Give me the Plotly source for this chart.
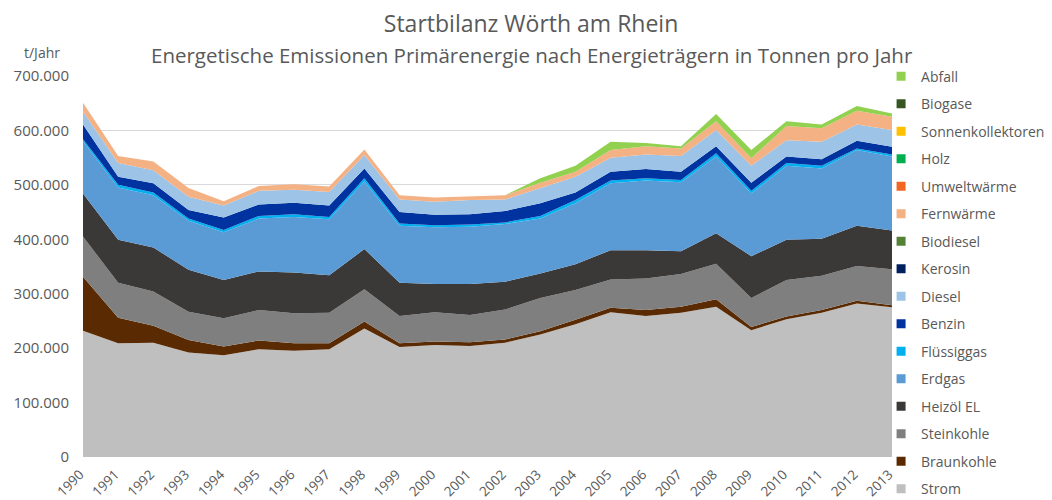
import plotly.graph_objects as go

years = list(range(1990, 2014))

# values in tonnes per year
strom = [232000, 209000, 210000, 192000, 187000, 198000, 195000, 198000, 236000, 202000, 206000, 204000,
         210000, 225000, 244000, 266000, 259000, 265000, 276000, 233000, 253000, 265000, 282000, 275000]
braunkohle = [99000, 47000, 31000, 23000, 16000, 16000, 14000, 11000, 13000, 7000, 6000, 7000,
              6000, 6000, 8000, 8000, 11000, 11000, 14000, 6000, 5000, 5000, 5000, 4000]
steinkohle = [74000, 64000, 63000, 52000, 52000, 56000, 55000, 56000, 59000, 50000, 54000, 50000,
              55000, 61000, 55000, 52000, 58000, 60000, 65000, 53000, 67000, 63000, 64000, 66000]
heizoel = [79000, 79000, 81000, 77000, 70000, 71000, 75000, 69000, 74000, 61000, 52000, 57000,
           51000, 45000, 47000, 54000, 52000, 42000, 56000, 77000, 74000, 68000, 74000, 71000]
erdgas = [96000, 96000, 96000, 90000, 88000, 97000, 102000, 103000, 124000, 105000, 104000, 105000,
          106000, 101000, 112000, 123000, 128000, 127000, 141000, 115000, 136000, 129000, 139000, 136000]
fluessiggas = [4000, 5000, 5000, 4000, 4000, 5000, 5000, 4000, 6000, 4000, 4000, 4000,
               3000, 5000, 6000, 5000, 4000, 4000, 6000, 5000, 5000, 5000, 3000, 4000]
benzin = [27000, 15000, 17000, 16000, 23000, 21000, 21000, 21000, 18000, 21000, 19000, 19000,
          21000, 23000, 14000, 16000, 17000, 15000, 13000, 15000, 12000, 12000, 14000, 14000]
diesel = [24000, 25000, 24000, 24000, 22000, 25000, 24000, 25000, 25000, 23000, 24000, 26000,
          21000, 28000, 29000, 26000, 27000, 29000, 30000, 31000, 30000, 32000, 30000, 31000]
kerosin = [0] * 24
biodiesel = [0] * 24
fernwaerme = [16000, 13000, 16000, 16000, 8000, 9000, 10000, 10000, 10000, 8000, 8000, 7000,
              8000, 10000, 9000, 14000, 15000, 14000, 16000, 14000, 26000, 25000, 25000, 24000]
umweltwaerme = [0] * 24
holz = [0] * 24
sonnenkollektoren = [0] * 24
biogase = [0] * 24
abfall = [0, 0, 0, 0, 0, 0, 0, 0, 0, 0, 0, 0,
          0, 8000, 11000, 15000, 6000, 4000, 13000, 15000, 9000, 7000, 9000, 6000]

series_names = ["Strom", "Braunkohle", "Steinkohle", "Heizöl EL", "Erdgas", "Flüssiggas", "Benzin",
                "Diesel", "Kerosin", "Biodiesel", "Fernwärme", "Umweltwärme", "Holz",
                "Sonnenkollektoren", "Biogase", "Abfall"]
series_values = [strom, braunkohle, steinkohle, heizoel, erdgas, fluessiggas, benzin, diesel, kerosin,
                 biodiesel, fernwaerme, umweltwaerme, holz, sonnenkollektoren, biogase, abfall]
series_colors = ["#BFBFBF", "#5A2A02", "#7F7F7F", "#3B3838", "#5B9BD5", "#00B0F0", "#0033A0",
                 "#9DC3E6", "#002060", "#548235", "#F4B183", "#F26522", "#00B050", "#FFC000",
                 "#375623", "#92D050"]

y_ticks = [0, 100000, 200000, 300000, 400000, 500000, 600000, 700000]

TXT = "#595959"
FONT = "Open Sans"

fig = go.Figure()
for name, vals, col in zip(series_names, series_values, series_colors):
    fig.add_trace(go.Scatter(x=years, y=vals, name=name, stackgroup="one", mode="lines",
                             line=dict(width=0, color=col), fillcolor=col, showlegend=False,
                             legendgroup=name, hoverinfo="x+y+name"))

# legend entries (square swatches), top entry = Abfall
for name, col in reversed(list(zip(series_names, series_colors))):
    fig.add_trace(go.Scatter(x=[None], y=[None], name=name, mode="markers",
                             marker=dict(symbol="square", size=9, color=col),
                             legendgroup=name, showlegend=True))

fig.update_layout(
    width=1044, height=492,
    margin=dict(l=75, r=160, t=68, b=43, autoexpand=False),
    paper_bgcolor="white", plot_bgcolor="white",
    separators=",.",
    font=dict(family=FONT, color=TXT, size=14),
    title=dict(text="Startbilanz Wörth am Rhein", x=0.501, xanchor="center",
               y=0.967, yanchor="middle", font=dict(size=23, color=TXT, family=FONT)),
    xaxis=dict(range=[1990, 2013], tickmode="array", tickvals=years,
               ticktext=[str(y) for y in years], tickangle=-45, showgrid=False,
               zeroline=False, showline=False, ticks="", tickfont=dict(size=13.5, color=TXT),
               ticklabelshift=-3, ticklabelstandoff=6, automargin=False),
    yaxis=dict(range=[0, 700000], tickvals=y_ticks, tickformat=",.0f", showgrid=True,
               gridcolor="#D9D9D9", gridwidth=1, zeroline=False, showline=False, ticks="",
               tickfont=dict(size=15, color=TXT), ticklabelstandoff=13, automargin=False),
    legend=dict(x=0.9865, xanchor="left", y=1.04, yanchor="top", traceorder="grouped",
                tracegroupgap=6.3, font=dict(size=14, color=TXT), itemwidth=30,
                bgcolor="rgba(0,0,0,0)", maxheight=480),
    annotations=[
        dict(text="Energetische Emissionen Primärenergie nach Energieträgern in Tonnen pro Jahr",
             xref="paper", yref="paper", x=0.555, y=1.055, xanchor="center", yanchor="middle",
             showarrow=False, font=dict(size=20.5, color=TXT, family=FONT)),
        dict(text="t/Jahr", xref="paper", yref="paper", x=-0.0507, y=1.062, xanchor="center",
             yanchor="middle", showarrow=False, font=dict(size=14, color=TXT, family=FONT)),
    ],
)

fig.write_html("out.html")
